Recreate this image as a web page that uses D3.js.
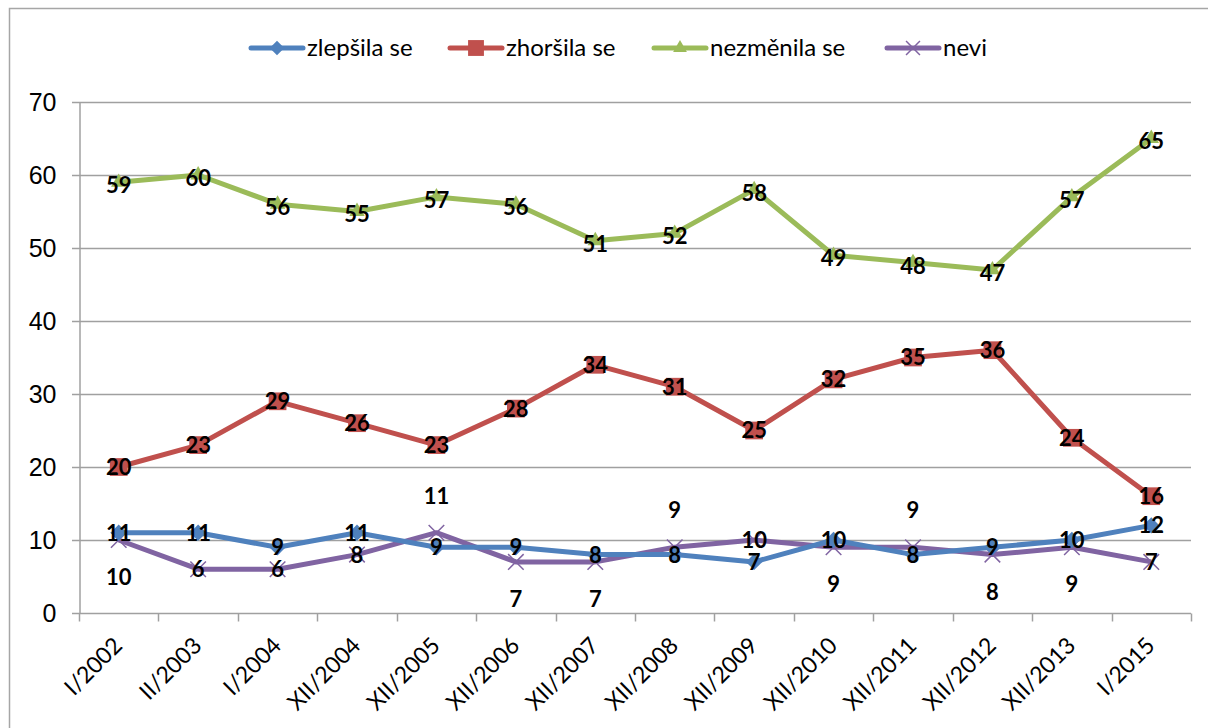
<!DOCTYPE html>
<html>
<head>
<meta charset="utf-8">
<script src="https://cdn.jsdelivr.net/npm/d3@7/dist/d3.min.js"></script>
<style>
  body { margin: 0; background: #fff; }
  svg { font-family: Lato, "Open Sans", sans-serif; }
</style>
</head>
<body>
<svg width="1208" height="728"></svg>
<script>
var width = 1208;
var height = 728;
var margin = {left: 79, right: 17, top: 102, bottom: 115};

var categories = ["I/2002", "II/2003", "I/2004", "XII/2004", "XII/2005", "XII/2006", "XII/2007",
  "XII/2008", "XII/2009", "XII/2010", "XII/2011", "XII/2012", "XII/2013", "I/2015"];
var seriesNames = ["zlepšila se", "zhoršila se", "nezměnila se", "nevi"];
var zlepsila = [11, 11, 9, 11, 9, 9, 8, 8, 7, 10, 8, 9, 10, 12];
var zhorsila = [20, 23, 29, 26, 23, 28, 34, 31, 25, 32, 35, 36, 24, 16];
var nezmenila = [59, 60, 56, 55, 57, 56, 51, 52, 58, 49, 48, 47, 57, 65];
var nevi = [10, 6, 6, 8, 11, 7, 7, 9, 10, 9, 9, 8, 9, 7];
// where the "nevi" label sits: 0 on the point, 1 below, -1 above
var neviLabelPos = [1, 0, 0, 0, -1, 1, 1, -1, 0, 1, -1, 1, 1, 0];
var yTicks = [0, 10, 20, 30, 40, 50, 60, 70];

var colors = ["#4F81BD", "#C0504D", "#9BBB59", "#8064A2"];
var symbols = [d3.symbolDiamond2, d3.symbolSquare2, d3.symbolTriangle2, d3.symbolX];

var svg = d3.select("svg");

// outer chart border
svg.append("rect")
  .attr("x", 9.5).attr("y", 8.5)
  .attr("width", width).attr("height", height)
  .attr("fill", "none").attr("stroke", "#A6A6A6").attr("stroke-width", 1.5);

var x = d3.scaleBand().domain(categories).range([margin.left, width - margin.right]);
var y = d3.scaleLinear().domain([0, 70]).range([height - margin.bottom, margin.top]);

// gridlines
svg.append("g")
  .selectAll("line")
  .data(yTicks)
  .enter().append("line")
  .attr("x1", margin.left - 7).attr("x2", width - margin.right)
  .attr("y1", function(d) { return Math.round(y(d)) + 0.5; })
  .attr("y2", function(d) { return Math.round(y(d)) + 0.5; })
  .attr("stroke", "#A0A0A0").attr("stroke-width", 1.5);

// y axis
var axisLeft = d3.axisLeft(y).tickValues(yTicks).tickSize(0).tickPadding(23);
var gy = svg.append("g")
  .attr("transform", "translate(" + (margin.left + 0.5) + ",0)")
  .call(axisLeft);
gy.select(".domain").attr("stroke", "#A0A0A0").attr("stroke-width", 1.5);
gy.selectAll("text").style("font-size", "25px").attr("fill", "#000");

// x axis
var axisBottom = d3.axisBottom(x).tickSize(0).tickFormat("");
var gx = svg.append("g")
  .attr("transform", "translate(0," + (Math.round(y(0)) + 0.5) + ")")
  .call(axisBottom);
gx.select(".domain").remove();
var edges = categories.map(function(c) { return x(c); }).concat([width - margin.right]);
gx.selectAll(".edge")
  .data(edges)
  .enter().append("line")
  .attr("x1", function(d) { return Math.round(d) + 0.5; })
  .attr("x2", function(d) { return Math.round(d) + 0.5; })
  .attr("y1", 0).attr("y2", 8)
  .attr("stroke", "#A0A0A0").attr("stroke-width", 1.5);

svg.append("g")
  .selectAll("text")
  .data(categories)
  .enter().append("text")
  .attr("transform", function(d) {
    return "translate(" + (x(d) + x.bandwidth() / 2 + 5) + "," + (y(0) + 34) + ") rotate(-45)";
  })
  .attr("text-anchor", "end")
  .style("font-size", "23px")
  .text(function(d) { return d; });

var allSeries = [zlepsila, zhorsila, nezmenila, nevi];
var symbolSizes = [170, 400, 170, 160];

var line = d3.line()
  .x(function(d, i) { return x(categories[i]) + x.bandwidth() / 2; })
  .y(function(d) { return y(d); });

// draw from the back so that blue lies on top of purple like in the original
[2, 1, 3, 0].forEach(function(s) {
  var values = allSeries[s];
  var g = svg.append("g");
  g.append("path")
    .datum(values)
    .attr("d", line)
    .attr("fill", "none")
    .attr("stroke", colors[s])
    .attr("stroke-width", 5)
    .attr("stroke-linejoin", "round");
  g.selectAll("path.marker")
    .data(values)
    .enter().append("path")
    .attr("class", "marker")
    .attr("transform", function(d, i) {
      return "translate(" + (x(categories[i]) + x.bandwidth() / 2) + "," + y(d) + ")";
    })
    .attr("d", d3.symbol().type(symbols[s]).size(symbolSizes[s]))
    .attr("fill", s === 3 ? "none" : colors[s])
    .attr("stroke", s === 3 ? colors[s] : "none")
    .attr("stroke-width", 1.5);
});

// data labels
var labels = [];
allSeries.forEach(function(values, s) {
  values.forEach(function(v, i) {
    var dy = 0;
    if (s === 2) dy = 3;
    if (s === 3) dy = neviLabelPos[i] * 37;
    labels.push({v: v, i: i, dy: dy});
  });
});
svg.append("g")
  .selectAll("text")
  .data(labels)
  .enter().append("text")
  .attr("x", function(d) { return x(categories[d.i]) + x.bandwidth() / 2; })
  .attr("y", function(d) { return y(d.v) + d.dy; })
  .attr("dy", "0.36em")
  .attr("text-anchor", "middle")
  .style("font-size", "22px")
  .style("font-weight", "bold")
  .text(function(d) { return d.v; });

// legend
var legendX = [249, 448, 652, 885];
var legend = svg.append("g")
  .selectAll("g")
  .data(seriesNames)
  .enter().append("g")
  .attr("transform", function(d, i) { return "translate(" + legendX[i] + ",48)"; });
legend.append("line")
  .attr("x1", 2).attr("x2", 54)
  .attr("stroke", function(d, i) { return colors[i]; })
  .attr("stroke-width", 5)
  .attr("stroke-linecap", "round");
legend.append("path")
  .attr("transform", "translate(28,0)")
  .attr("d", function(d, i) { return d3.symbol().type(symbols[i]).size(symbolSizes[i] * 0.8)(); })
  .attr("fill", function(d, i) { return i === 3 ? "none" : colors[i]; })
  .attr("stroke", function(d, i) { return i === 3 ? colors[i] : "none"; })
  .attr("stroke-width", 1.5);
legend.append("text")
  .attr("x", 58)
  .attr("dy", "0.35em")
  .style("font-size", "24px")
  .text(function(d) { return d; });
</script>
</body>
</html>
